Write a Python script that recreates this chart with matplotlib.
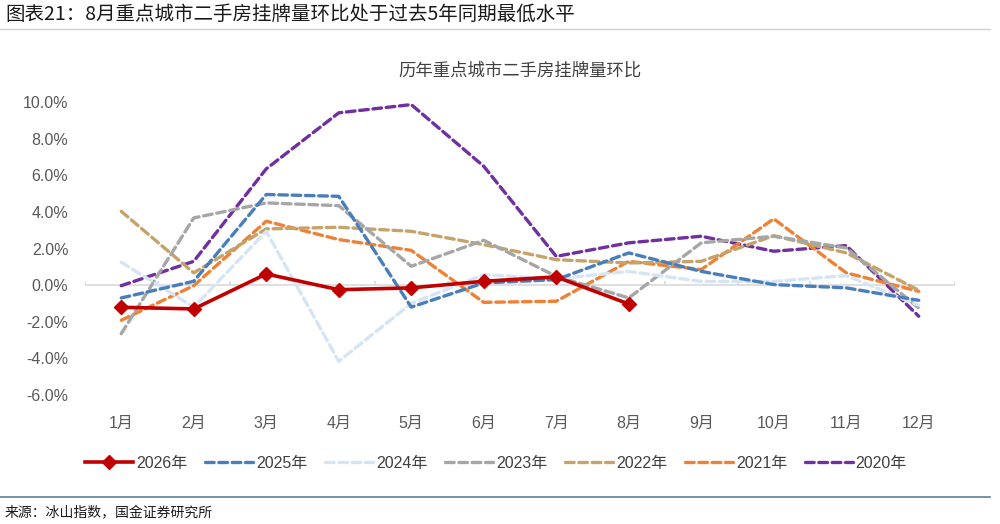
import matplotlib
matplotlib.use("Agg")
import matplotlib.pyplot as plt
import matplotlib.transforms as mtransforms
from matplotlib.ticker import FuncFormatter

plt.rcParams["font.family"] = ["Liberation Sans", "Noto Sans CJK SC", "DejaVu Sans"]

months = ["1月", "2月", "3月", "4月", "5月", "6月", "7月", "8月", "9月", "10月", "11月", "12月"]

# month-on-month change of listed second-hand homes, %
y2026 = [-1.21, -1.30, 0.61, -0.25, -0.15, 0.21, 0.45, -1.03]
y2025 = [-0.70, 0.21, 4.95, 4.85, -1.20, 0.12, 0.30, 1.76, 0.75, 0.03, -0.15, -0.83]
y2024 = [1.25, -1.20, 2.94, -4.16, -1.00, 0.57, 0.34, 0.75, 0.20, 0.20, 0.52, -1.10]
y2023 = [-2.65, 3.67, 4.49, 4.34, 1.03, 2.45, 0.48, -0.70, 2.31, 2.67, 2.03, -1.25]
y2022 = [4.03, 0.67, 3.07, 3.16, 2.94, 2.21, 1.39, 1.21, 1.30, 2.70, 1.76, -0.28]
y2021 = [-1.92, -0.03, 3.49, 2.49, 1.90, -0.94, -0.88, 1.30, 0.85, 3.62, 0.67, -0.34]
y2020 = [-0.03, 1.30, 6.35, 9.41, 9.86, 6.49, 1.57, 2.31, 2.67, 1.85, 2.16, -1.70]

series = [
    ("2025年", y2025, "#4A7EBB"),
    ("2024年", y2024, "#D6E5F3"),
    ("2023年", y2023, "#A6A6A6"),
    ("2022年", y2022, "#C4A46A"),
    ("2021年", y2021, "#ED8237"),
    ("2020年", y2020, "#7030A0"),
]

fig = plt.figure(figsize=(10, 5.24), dpi=100)
ax = fig.add_axes([0.085, 0.2462, 0.87, 0.5591])

x_all = list(range(len(months)))
# draw older years first so newer ones sit on top
for label, vals, color in reversed(series):
    ax.plot(x_all[:len(vals)], vals, color=color, lw=2.4,
            dashes=(2.6, 1.4), dash_capstyle="round", label=label)
ax.plot(x_all[:len(y2026)], y2026, color="#C00000", lw=2.6,
        marker="D", markersize=7.5, label="2026年", zorder=5)

ax.set_xlim(-0.5, len(months) - 0.5)
ax.set_ylim(-6, 10)
ax.set_yticks([-6, -4, -2, 0, 2, 4, 6, 8, 10])
ax.yaxis.set_major_formatter(FuncFormatter(lambda v, p: f"{v:.1f}%"))
ax.set_xticks(x_all)
ax.set_xticklabels(months)
for s in ax.spines.values():
    s.set_visible(False)
ax.tick_params(axis="both", length=0, labelsize=11.5, colors="#595959")
ax.tick_params(axis="x", pad=15)
ax.tick_params(axis="y", pad=12)

# zero line with small category ticks
ax.axhline(0, color="#D9D9D9", lw=1.2, zorder=1)
trans = mtransforms.blended_transform_factory(ax.transData, ax.transAxes)
z = 6 / 16
ax.vlines([i - 0.5 for i in range(len(months) + 1)], z, z + 0.015,
          transform=trans, color="#D9D9D9", lw=1.2, zorder=1)

ax.set_title("历年重点城市二手房挂牌量环比", fontsize=12.5, color="#404040", pad=19)

order = ["2026年"] + [s[0] for s in series]
hmap = {h.get_label(): h for h in ax.get_lines() if h.get_label() in order}
fig.legend([hmap[k] for k in order], order, loc="center", ncol=7,
           bbox_to_anchor=(0.496, 0.1164), frameon=False, fontsize=11.5,
           handlelength=3.0, columnspacing=1.1, handletextpad=0.2,
           labelcolor="#404040")

# header and footer
fig.text(0.005, 0.972, "图表21：8月重点城市二手房挂牌量环比处于过去5年同期最低水平",
         fontsize=14, color="#1A1A1A", va="center", ha="left",
         family=["Noto Sans CJK SC", "DejaVu Sans"])
fig.add_artist(plt.Line2D([0.0, 0.99], [1 - 29 / 524] * 2, color="#D0D0D0", lw=1))
fig.add_artist(plt.Line2D([0.0, 0.99], [1 - 497 / 524] * 2, color="#5E7F9A", lw=1.2))
fig.text(0.005, 1 - 513 / 524, "来源：冰山指数，国金证券研究所", fontsize=10,
         color="#1A1A1A", va="center", ha="left",
         family=["Noto Sans CJK SC", "DejaVu Sans"])

fig.savefig("out.png", dpi=100)
